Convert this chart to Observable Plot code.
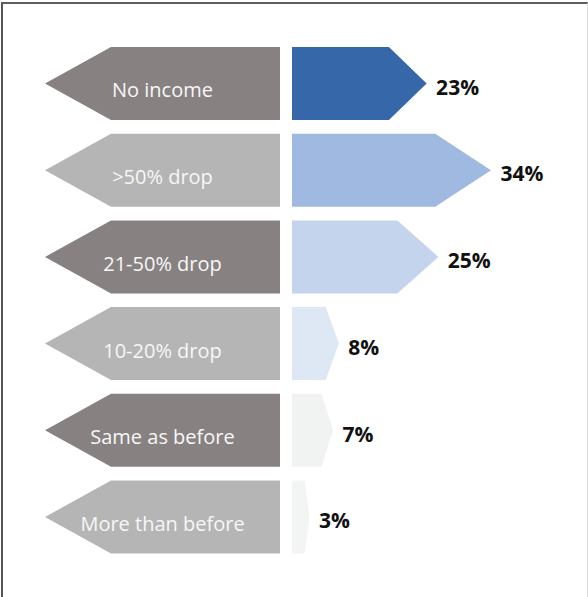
<!DOCTYPE html>
<html>
<head>
<meta charset="utf-8">
<script src="https://cdn.jsdelivr.net/npm/d3@7"></script>
<script src="https://cdn.jsdelivr.net/npm/@observablehq/plot@0.6"></script>
<style>
  html, body { margin: 0; padding: 0; background: #fff; }
  #wrap { position: relative; width: 588px; height: 597px; overflow: hidden; }
  #frame { position: absolute; left: 1px; top: 2px; width: 584px; height: 600px;
    border-top: 2px solid #5f5f5f; border-left: 2px solid #555; border-right: 1px solid #dcdcdc;
    pointer-events: none; }
</style>
</head>
<body>
<div id="wrap"><div id="frame"></div></div>
<script>
// ---- data ----
const categories = ["No income", ">50% drop", "21-50% drop", "10-20% drop", "Same as before", "More than before"];
const values = [23, 34, 25, 8, 7, 3];
const barColors = ["#3567a9", "#a0b9e1", "#c3d4ec", "#dee7f4", "#f1f2f2", "#f3f4f4"];
const labelColors = ["#878281", "#b4b5b4", "#878281", "#b4b5b4", "#878281", "#b4b5b4"];

// ---- layout (pixels) ----
const W = 588, H = 597;
const zeroPx = 292, pxPerPct = 5.853;
const leftTipPx = 45, leftBodyPx = 111, leftEdgePx = 280, leftTextPx = 162;
const halfH = 0.421;          // half row height in row units
const headFrac = 0.28;        // arrow head as fraction of length
const ux = p => (p - zeroPx) / pxPerPct;

const rows = categories.map((c, i) => ({i, category: c, value: values[i], bar: barColors[i], lab: labelColors[i]}));

// right (value) arrows
const rightPts = rows.flatMap(r => [
  {i: r.i, y: r.i - halfH, x1: 0, x2: r.value * (1 - headFrac), fill: r.bar},
  {i: r.i, y: r.i,         x1: 0, x2: r.value,                  fill: r.bar},
  {i: r.i, y: r.i + halfH, x1: 0, x2: r.value * (1 - headFrac), fill: r.bar}
]);
// left (category) arrows
const leftPts = rows.flatMap(r => [
  {i: r.i, y: r.i - halfH, x1: ux(leftBodyPx), x2: ux(leftEdgePx), fill: r.lab},
  {i: r.i, y: r.i,         x1: ux(leftTipPx),  x2: ux(leftEdgePx), fill: r.lab},
  {i: r.i, y: r.i + halfH, x1: ux(leftBodyPx), x2: ux(leftEdgePx), fill: r.lab}
]);

const chart = Plot.plot({
  width: W, height: H,
  marginTop: 0, marginRight: 0, marginBottom: 0, marginLeft: 0,
  x: {domain: [ux(0), ux(W)], range: [0, W], axis: null},
  y: {domain: [0, 5], range: [83.5, 517], axis: null},
  style: {background: "transparent"},
  marks: [
    Plot.areaX(leftPts, {x1: "x1", x2: "x2", y: "y", z: "i", fill: "fill", curve: "linear"}),
    Plot.areaX(rightPts, {x1: "x1", x2: "x2", y: "y", z: "i", fill: "fill", curve: "linear"}),
    Plot.text(rows, {x: () => ux(leftTextPx), y: "i", text: "category", dy: 7,
      fill: "#f7f7f7", fontSize: 20, fontFamily: "Open Sans", textAnchor: "middle"}),
    Plot.text(rows, {x: "value", y: "i", text: d => d.value + "%", dx: 9, dy: 4,
      fill: "#111", fontSize: 21, fontWeight: "bold", fontFamily: "Open Sans", textAnchor: "start"})
  ]
});
document.getElementById("wrap").insertBefore(chart, document.getElementById("frame"));
</script>
</body>
</html>
